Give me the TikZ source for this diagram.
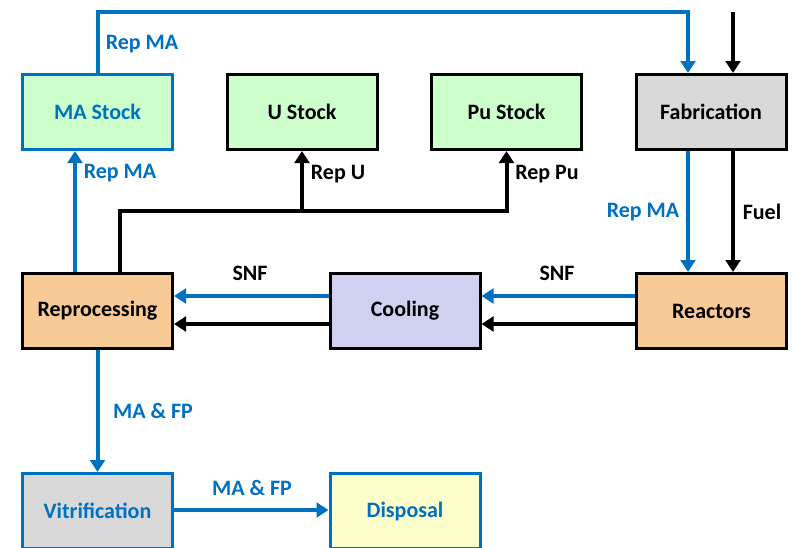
\documentclass[tikz,border=0pt]{standalone}
\usepackage{fontspec}
\setmainfont{Carlito}
\usetikzlibrary{arrows.meta,calc}
\definecolor{cblue}{HTML}{0070C0}
\definecolor{cgreen}{HTML}{CCFFCC}
\definecolor{corange}{HTML}{F8CB96}
\definecolor{cviolet}{HTML}{D0D0F0}
\definecolor{cgray}{HTML}{D9D9D9}
\definecolor{cyellow}{HTML}{FFFFCC}
\begin{document}
\begin{tikzpicture}[x=0.75pt,y=-0.75pt,
  box/.style={draw, line width=2.25pt, minimum width=112.5pt, minimum height=56.25pt, inner sep=0pt, font=\fontsize{16.5}{19}\selectfont\bfseries},
  bluebox/.style={box, draw=cblue, text=cblue},
  flow/.style={line width=3pt, -{Triangle[width=11pt,length=9pt]}},
  bflow/.style={flow, draw=cblue},
  lbl/.style={font=\fontsize{16.5}{19}\selectfont\bfseries, inner sep=0pt},
  blbl/.style={lbl, text=cblue}]
\useasboundingbox (0,0) rectangle (792,547);
% boxes
\node[bluebox, fill=cgreen] (mastock) at (97.5,112) {MA Stock};
\node[box, fill=cgreen] (ustock) at (302,112) {U Stock};
\node[box, fill=cgreen] (pustock) at (506.5,112) {Pu Stock};
\node[box, fill=cgray] (fab) at (711,112) {Fabrication};
\node[box, fill=corange] (repro) at (97.5,311) {Reprocessing};
\node[box, fill=cviolet] (cool) at (405,311) {Cooling};
\node[box, fill=corange] (react) at (711.5,311) {Reactors};
\node[bluebox, fill=cgray] (vitri) at (97.5,511) {Vitrification};
\node[bluebox, fill=cyellow] (disp) at (405,511) {Disposal};
% free end of the fuel supply
\coordinate (fuelin) at (733,12);
% MA stock -> fabrication
\draw[bflow] (mastock.north) -- (97.5,12) -| ($(fab.north)+(-23,0)$);
\draw[flow] (fuelin) -- (fuelin |- fab.north);
% fabrication -> reactors
\draw[bflow] ($(fab.south)+(-23,0)$) -- ($(react.north)+(-23.5,0)$);
\draw[flow] ($(fab.south)+(22,0)$) -- ($(react.north)+(21.5,0)$);
% reactors -> cooling -> reprocessing
\draw[bflow] ($(react.west)+(0,-15)$) -- ($(cool.east)+(0,-15)$);
\draw[flow] ($(react.west)+(0,13)$) -- ($(cool.east)+(0,13)$);
\draw[bflow] ($(cool.west)+(0,-15)$) -- ($(repro.east)+(0,-15)$);
\draw[flow] ($(cool.west)+(0,13)$) -- ($(repro.east)+(0,13)$);
% reprocessing -> stocks
\draw[bflow] ($(repro.north)+(-22.5,0)$) -- ($(mastock.south)+(-22.5,0)$);
\draw[flow] ($(repro.north)+(22.5,0)$) -- (120,211) -| (pustock.south);
\draw[flow] (ustock.south |- 0,211) -- (ustock.south);
% reprocessing -> vitrification -> disposal
\draw[bflow] (repro.south) -- (vitri.north);
\draw[bflow] ($(vitri.east)+(0,-1)$) -- ($(disp.west)+(0,-1)$);
% labels
\node[blbl] (l1) at (142,44) {Rep MA};
\node[blbl] (l2) at (120,173) {Rep MA};
\node[lbl] (l3) at (338,174) {Rep U};
\node[lbl] (l4) at (547,174) {Rep Pu};
\node[blbl] (l5) at (643,212) {Rep MA};
\node[lbl] (l6) at (762,212) {Fuel};
\node[lbl] (l7) at (250,273) {SNF};
\node[lbl] (l8) at (557,273) {SNF};
\node[blbl] (l9) at (153,411) {MA \& FP};
\node[blbl] (l10) at (252,488) {MA \& FP};
\end{tikzpicture}
\end{document}
